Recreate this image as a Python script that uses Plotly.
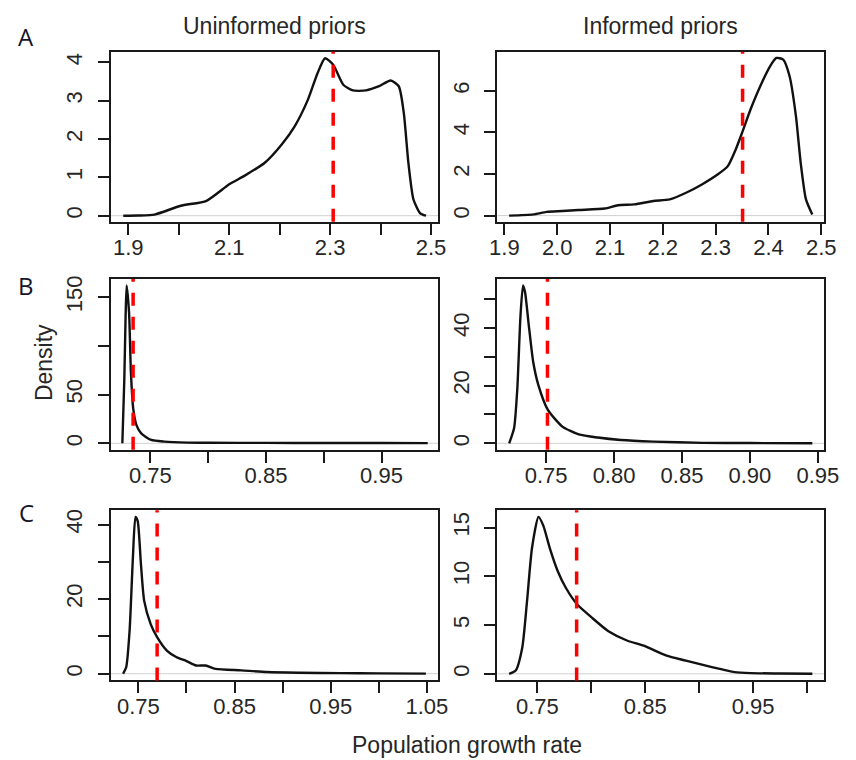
import plotly.graph_objects as go

# ---------------- data ----------------
# Row A: uninformed / informed priors
a_unif_x = [1.890, 1.920, 1.952, 2.004, 2.055, 2.100, 2.130, 2.171, 2.204, 2.230, 2.256, 2.275,
            2.290, 2.306, 2.326, 2.345, 2.371, 2.397, 2.420, 2.436, 2.446, 2.455, 2.465, 2.478, 2.490]
a_unif_y = [0.0, 0.005, 0.03, 0.26, 0.39, 0.82, 1.04, 1.39, 1.86, 2.34, 3.03, 3.72,
            4.11, 3.94, 3.42, 3.27, 3.27, 3.38, 3.53, 3.38, 2.68, 1.39, 0.43, 0.07, 0.0]
a_inf_x = [1.909, 1.955, 1.980, 2.010, 2.040, 2.090, 2.115, 2.146, 2.182, 2.213, 2.244, 2.274, 2.305,
           2.323, 2.338, 2.350, 2.366, 2.384, 2.403, 2.415, 2.428, 2.440, 2.452, 2.461, 2.471, 2.483]
a_inf_y = [0.0, 0.06, 0.18, 0.22, 0.27, 0.34, 0.50, 0.54, 0.70, 0.78, 1.10, 1.50, 2.00,
           2.38, 3.18, 3.98, 5.10, 6.20, 7.18, 7.58, 7.50, 6.70, 4.78, 2.54, 0.78, 0.05]

# Row B
b_unif_x = [0.7257, 0.7274, 0.7285, 0.7294, 0.7315, 0.7331, 0.7351, 0.7379, 0.7420, 0.7506,
            0.7620, 0.7820, 0.800, 0.850, 0.900, 0.950, 0.990]
b_unif_y = [0.0, 66, 130, 162, 134, 73, 35.6, 18.7, 10.2, 3.4,
            1.7, 0.7, 0.5, 0.4, 0.3, 0.3, 0.2]
b_inf_x = [0.7228, 0.7264, 0.7288, 0.7311, 0.7330, 0.7345, 0.7370, 0.7405, 0.7443, 0.7514,
           0.7620, 0.7740, 0.7880, 0.8050, 0.8290, 0.8650, 0.900, 0.946]
b_inf_y = [0.0, 5.2, 19, 44, 54.8, 52.4, 42, 28.2, 20.2, 11.5,
           5.8, 3.1, 2.0, 1.15, 0.6, 0.15, 0.08, 0.03]

# Row C
c_unif_x = [0.7341, 0.7374, 0.7409, 0.7443, 0.7470, 0.7493, 0.7527, 0.7560, 0.7628, 0.7695,
            0.7796, 0.7898, 0.800, 0.810, 0.820, 0.8302, 0.857, 0.884, 0.918, 0.960, 1.000, 1.049]
c_unif_y = [0.0, 1.8, 11.6, 31, 42, 40.9, 29.3, 19.6, 13.3, 9.8,
            6.2, 4.4, 3.4, 2.2, 2.2, 1.3, 0.9, 0.45, 0.27, 0.15, 0.08, 0.02]
c_inf_x = [0.7238, 0.7299, 0.7360, 0.7404, 0.7450, 0.7510, 0.7555, 0.7615, 0.7690, 0.7765, 0.7870,
           0.8005, 0.8155, 0.8336, 0.8486, 0.8697, 0.8877, 0.9118, 0.9329, 0.9480, 0.975, 1.005]
c_inf_y = [0.0, 0.34, 2.7, 7.45, 12.9, 16.1, 15.2, 12.9, 10.5, 8.8, 7.1,
           5.76, 4.4, 3.39, 2.88, 1.86, 1.35, 0.68, 0.17, 0.07, 0.03, 0.0]

# reference values (red dashed lines)
ref_values = [2.306, 2.351, 0.735, 0.751, 0.7695, 0.7864]

# tick values and labels per panel
x_ticks = [
    [1.9, 2.0, 2.1, 2.2, 2.3, 2.4, 2.5],
    [1.9, 2.0, 2.1, 2.2, 2.3, 2.4, 2.5],
    [0.75, 0.80, 0.85, 0.90, 0.95],
    [0.75, 0.80, 0.85, 0.90, 0.95],
    [0.75, 0.80, 0.85, 0.90, 0.95, 1.00, 1.05],
    [0.75, 0.80, 0.85, 0.90, 0.95, 1.00],
]
x_labels = [
    ["1.9", "", "2.1", "", "2.3", "", "2.5"],
    ["1.9", "2.0", "2.1", "2.2", "2.3", "2.4", "2.5"],
    ["0.75", "", "0.85", "", "0.95"],
    ["0.75", "0.80", "0.85", "0.90", "0.95"],
    ["0.75", "", "0.85", "", "0.95", "", "1.05"],
    ["0.75", "", "0.85", "", "0.95", ""],
]
y_ticks = [
    [0, 1, 2, 3, 4],
    [0, 2, 4, 6],
    [0, 50, 100, 150],
    [0, 10, 20, 30, 40, 50],
    [0, 10, 20, 30, 40],
    [0, 5, 10, 15],
]
y_labels = [
    ["0", "1", "2", "3", "4"],
    ["0", "2", "4", "6"],
    ["0", "50", "", "150"],
    ["0", "", "20", "", "40", ""],
    ["0", "", "20", "", "40"],
    ["0", "5", "10", "15"],
]
col_titles = ["Uninformed priors", "Informed priors"]
row_labels = ["A", "B", "C"]
x_title = "Population growth rate"
y_title = "Density"

curves = [(a_unif_x, a_unif_y), (a_inf_x, a_inf_y),
          (b_unif_x, b_unif_y), (b_inf_x, b_inf_y),
          (c_unif_x, c_unif_y), (c_inf_x, c_inf_y)]

# ---------------- layout geometry ----------------
W, H = 856, 760
col_dom = [[106 / W, 442 / W], [503 / W, 839 / W]]
row_dom = [[1 - 219 / H, 1 - 48 / H], [1 - 448 / H, 1 - 276.5 / H], [1 - 680 / H, 1 - 509 / H]]
x_ranges = [[1.866, 2.514], [1.887, 2.506], [0.716, 0.999],
            [0.7142, 0.9549], [0.7217, 1.0617], [0.713, 1.0162]]
y_ranges = [[-0.16, 4.28], [-0.30, 7.88], [-6.5, 168.5],
            [-2.2, 57.0], [-1.8, 43.8], [-0.68, 16.77]]

FONT = "Liberation Sans, Arial, sans-serif"
TEXT_COLOR = "#262626"
TICK_FONT = dict(family=FONT, size=22, color=TEXT_COLOR)
TITLE_FONT = dict(family=FONT, size=23, color=TEXT_COLOR)

fig = go.Figure()
layout = dict(
    width=W, height=H,
    margin=dict(l=0, r=0, t=0, b=0),
    paper_bgcolor="white", plot_bgcolor="white",
    showlegend=False,
    shapes=[], annotations=[],
)

for i, (cx, cy) in enumerate(curves):
    r, c = divmod(i, 2)
    n = "" if i == 0 else str(i + 1)
    xa, ya = "x" + n, "y" + n
    fig.add_trace(go.Scatter(
        x=cx, y=cy, mode="lines", xaxis=xa, yaxis=ya,
        line=dict(color="#111111", width=2.4, shape="spline", smoothing=0.6),
        hoverinfo="skip",
    ))
    axis_common = dict(
        showline=True, linecolor="#1a1a1a", linewidth=2, mirror=True,
        showgrid=False, zeroline=False,
        ticks="outside", ticklen=11, tickwidth=1.6, tickcolor="#1a1a1a",
        tickfont=TICK_FONT, tickmode="array",
    )
    layout["xaxis" + n] = dict(
        axis_common, domain=col_dom[c], range=x_ranges[i], anchor=ya,
        tickvals=x_ticks[i], ticktext=x_labels[i], ticklabelstandoff=-6,
    )
    layout["yaxis" + n] = dict(
        axis_common, domain=row_dom[r], range=y_ranges[i], anchor=xa,
        tickvals=y_ticks[i], ticktext=y_labels[i], tickangle=-90,
        ticklabelstandoff=7,
    )
    # faint zero baseline
    layout["shapes"].append(dict(
        type="line", xref=xa + " domain", yref=ya, x0=0, x1=1, y0=0, y1=0,
        line=dict(color="#d0d0d0", width=1), layer="below",
    ))
    # red dashed reference line, drawn from the bottom up
    layout["shapes"].append(dict(
        type="line", xref=xa, yref=ya + " domain", x0=ref_values[i], x1=ref_values[i],
        y0=0, y1=1, line=dict(color="#ff0000", width=3.5, dash="13px,11px"),
    ))

# column titles
for c, t in enumerate(col_titles):
    layout["annotations"].append(dict(
        text=t, xref="paper", yref="paper", x=sum(col_dom[c]) / 2, y=1 - 22 / H,
        xanchor="center", yanchor="middle", showarrow=False, font=TITLE_FONT,
    ))
# row letters
for lab, yc in zip(row_labels, [33, 283, 511]):
    layout["annotations"].append(dict(
        text=lab, xref="paper", yref="paper", x=19 / W, y=1 - yc / H,
        xanchor="center", yanchor="middle", showarrow=False,
        font=dict(family="Open Sans, sans-serif", size=24, color="#15152a"),
    ))
# axis titles
layout["annotations"].append(dict(
    text=x_title, xref="paper", yref="paper", x=472 / W, y=1 - 745 / H,
    xanchor="center", yanchor="middle", showarrow=False, font=TITLE_FONT,
))
layout["annotations"].append(dict(
    text=y_title, xref="paper", yref="paper", x=37 / W, y=1 - 361 / H,
    xanchor="center", yanchor="middle", showarrow=False, textangle=-90,
    font=TITLE_FONT,
))

fig.update_layout(**layout)
fig.write_html("out.html")
